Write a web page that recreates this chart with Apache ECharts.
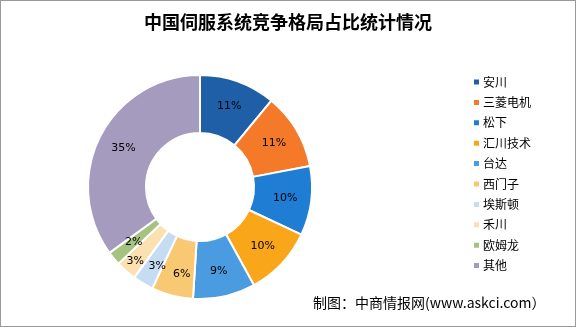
<!DOCTYPE html>
<html><head><meta charset="utf-8">
<script src="https://cdn.jsdelivr.net/npm/echarts@6/dist/echarts.min.js"></script>
<style>html,body{margin:0;padding:0;background:#fff}#c{width:576px;height:327px;box-sizing:border-box;border:1px solid #9a9a9a}</style>
</head><body><div id="c"></div>
<script>
const categories = ['安川','三菱电机','松下','汇川技术','台达','西门子','埃斯顿','禾川','欧姆龙','其他'];
const shares = [11,11,10,10,9,6,3,3,2,35];
const colors = ['#1f5fa8','#f47a2a','#1f7dd4','#f9a61a','#4a9be0','#f8c872','#c5dcf2','#fbe0b0','#a5c37f','#a59bbf'];
// label nudges for crowded small slices (style only)
const labelNudge = {'埃斯顿':[1,5],'禾川':[-8,10],'西门子':[3,4]};
const chart = echarts.init(document.getElementById('c'));
chart.setOption({
  animation:false,
  color: colors,
  title:{text:'中国伺服系统竞争格局占比统计情况',left:'center',top:7,
    textStyle:{fontFamily:'Noto Sans CJK SC',fontSize:18,fontWeight:'bold',color:'#000'}},
  graphic:[{type:'text',left:312,top:295,style:{text:'制图：中商情报网(www.askci.com）',
    font:'14px "Noto Sans CJK SC"',fill:'#000'}}],
  legend:{orient:'vertical',left:466,top:70,itemWidth:7,itemHeight:7,itemGap:8.4,icon:'rect',
    textStyle:{fontFamily:'Noto Sans CJK SC',fontSize:12,color:'#000',padding:[0,0,0,-2]},
    data:categories},
  series:[{type:'pie',center:[199,186],radius:[54,112],startAngle:90,clockwise:true,
    itemStyle:{borderColor:'#fff',borderWidth:2},
    labelLayout:{hideOverlap:false},
    avoidLabelOverlap:false,
    label:{position:'inside',formatter:'{c}%',color:'#000',fontSize:11,fontFamily:'DejaVu Sans'},
    labelLine:{show:false},
    data:categories.map((n,i)=>{
      const d={name:n,value:shares[i]};
      if(labelNudge[n]) d.label={offset:labelNudge[n]};
      return d;
    })}]
});
</script></body></html>
